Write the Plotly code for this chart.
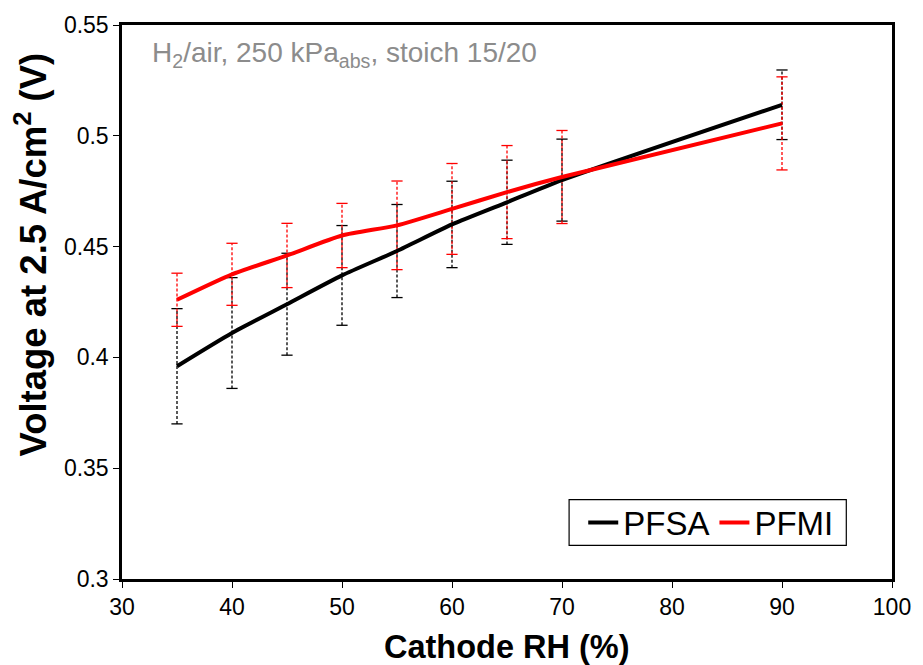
import plotly.graph_objects as go

rh = [35, 40, 45, 50, 55, 60, 65, 70, 90]
pfsa = [0.396, 0.411, 0.424, 0.437, 0.448, 0.460, 0.470, 0.480, 0.514]
pfsa_err = [0.026, 0.025, 0.023, 0.0225, 0.021, 0.0195, 0.019, 0.0185, 0.0157]
pfmi = [0.426, 0.4375, 0.446, 0.455, 0.4596, 0.467, 0.4746, 0.4814, 0.5056]
pfmi_err = [0.012, 0.014, 0.0145, 0.0145, 0.020, 0.0205, 0.021, 0.021, 0.021]

FONT = "Liberation Sans, Arial, sans-serif"

fig = go.Figure()


def add_errors(x, y, e, color):
    xs, ys = [], []
    for xi, yi, ei in zip(x, y, e):
        xs += [xi, xi, None]
        ys += [yi - ei, yi + ei, None]
    fig.add_trace(go.Scatter(x=xs, y=ys, mode="lines",
                             line=dict(color=color, width=1.3, dash="3px,2px"),
                             showlegend=False, hoverinfo="skip"))
    cx = list(x) + list(x)
    cy = [yi - ei for yi, ei in zip(y, e)] + [yi + ei for yi, ei in zip(y, e)]
    fig.add_trace(go.Scatter(x=cx, y=cy, mode="markers",
                             marker=dict(symbol="line-ew", size=8,
                                         line=dict(color=color, width=1.3)),
                             showlegend=False, hoverinfo="skip"))


add_errors(rh, pfsa, pfsa_err, "black")
add_errors(rh, pfmi, pfmi_err, "red")

fig.add_trace(go.Scatter(x=rh, y=pfsa, mode="lines", name="PFSA",
                         line=dict(color="black", width=4, shape="spline", smoothing=0.6)))
fig.add_trace(go.Scatter(x=rh, y=pfmi, mode="lines", name="PFMI",
                         line=dict(color="red", width=4, shape="spline", smoothing=0.6)))

fig.update_layout(
    width=923, height=665,
    margin=dict(l=122, r=26, t=20, b=86),
    paper_bgcolor="white", plot_bgcolor="white",
    font=dict(family=FONT, color="black"),
    showlegend=True,
    legend=dict(orientation="h", x=0.599, y=0.102, xanchor="left", yanchor="middle",
                borderwidth=0, bgcolor="rgba(0,0,0,0)",
                font=dict(size=33, family=FONT), itemwidth=30,
                tracegroupgap=0),
    shapes=[dict(type="rect", xref="paper", yref="paper",
                 x0=(572 - 122) / 775, x1=(851 - 122) / 775,
                 y0=(579 - 545) / 559, y1=(579 - 499) / 559,
                 line=dict(color="black", width=1.2), fillcolor="rgba(0,0,0,0)", layer="below")],
    annotations=[
        dict(text="H<sub>2</sub>/air, 250 kPa<sub>abs</sub>, stoich 15/20",
             x=0.036, y=0.946, xref="paper", yref="paper", xanchor="left", yanchor="middle",
             showarrow=False, font=dict(size=28, color="#8c8c8c", family=FONT)),
        dict(text="<b>Cathode RH (%)</b>", x=0.5006, y=-0.1234, xref="paper", yref="paper",
             xanchor="center", yanchor="middle", showarrow=False,
             font=dict(size=32.5, family=FONT)),
        dict(text="<b>Voltage at 2.5 A/cm<sup>2</sup> (V)</b>", x=-0.118, y=0.586,
             xref="paper", yref="paper", xanchor="center", yanchor="middle",
             textangle=-90, showarrow=False, font=dict(size=36.5, family=FONT)),
    ],
)

fig.update_xaxes(range=[30, 100], dtick=10, tick0=30, showgrid=False, zeroline=False,
                 showline=True, linecolor="black", linewidth=2.5, mirror=True,
                 ticks="outside", ticklen=6, tickwidth=1.2, tickcolor="black",
                 tickfont=dict(size=23, family=FONT))
fig.update_yaxes(range=[0.3, 0.55], dtick=0.05, tick0=0.3, showgrid=False, zeroline=False,
                 showline=True, linecolor="black", linewidth=2.5, mirror=True,
                 ticks="outside", ticklen=6, tickwidth=1.2, tickcolor="black",
                 tickfont=dict(size=23, family=FONT))

fig.write_html("out.html")
